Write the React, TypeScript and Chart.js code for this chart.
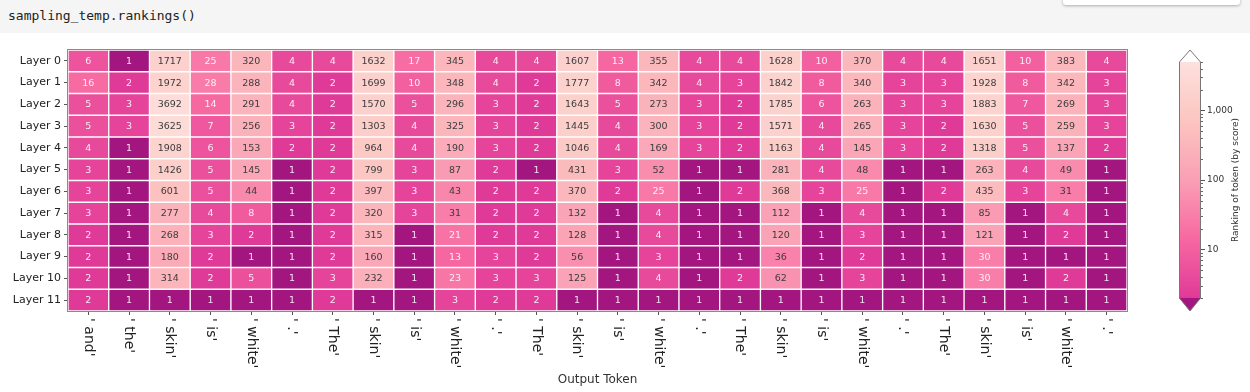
import React, { useEffect, useRef } from "react";
import { Chart, registerables } from "chart.js";

Chart.register(...registerables);

// ---------------- data ----------------
const tokens = [
  "and", "the", "skin", "is", "white", ".",
  "The", "skin", "is", "white", ".",
  "The", "skin", "is", "white", ".",
  "The", "skin", "is", "white", ".",
  "The", "skin", "is", "white", ".",
];

const layers = [
  "Layer 0", "Layer 1", "Layer 2", "Layer 3", "Layer 4", "Layer 5",
  "Layer 6", "Layer 7", "Layer 8", "Layer 9", "Layer 10", "Layer 11",
];

const layer0 = [6, 1, 1717, 25, 320, 4, 4, 1632, 17, 345, 4, 4, 1607, 13, 355, 4, 4, 1628, 10, 370, 4, 4, 1651, 10, 383, 4];
const layer1 = [16, 2, 1972, 28, 288, 4, 2, 1699, 10, 348, 4, 2, 1777, 8, 342, 4, 3, 1842, 8, 340, 3, 3, 1928, 8, 342, 3];
const layer2 = [5, 3, 3692, 14, 291, 4, 2, 1570, 5, 296, 3, 2, 1643, 5, 273, 3, 2, 1785, 6, 263, 3, 3, 1883, 7, 269, 3];
const layer3 = [5, 3, 3625, 7, 256, 3, 2, 1303, 4, 325, 3, 2, 1445, 4, 300, 3, 2, 1571, 4, 265, 3, 2, 1630, 5, 259, 3];
const layer4 = [4, 1, 1908, 6, 153, 2, 2, 964, 4, 190, 3, 2, 1046, 4, 169, 3, 2, 1163, 4, 145, 3, 2, 1318, 5, 137, 2];
const layer5 = [3, 1, 1426, 5, 145, 1, 2, 799, 3, 87, 2, 1, 431, 3, 52, 1, 1, 281, 4, 48, 1, 1, 263, 4, 49, 1];
const layer6 = [3, 1, 601, 5, 44, 1, 2, 397, 3, 43, 2, 2, 370, 2, 25, 1, 2, 368, 3, 25, 1, 2, 435, 3, 31, 1];
const layer7 = [3, 1, 277, 4, 8, 1, 2, 320, 3, 31, 2, 2, 132, 1, 4, 1, 1, 112, 1, 4, 1, 1, 85, 1, 4, 1];
const layer8 = [2, 1, 268, 3, 2, 1, 2, 315, 1, 21, 2, 2, 128, 1, 4, 1, 1, 120, 1, 3, 1, 1, 121, 1, 2, 1];
const layer9 = [2, 1, 180, 2, 1, 1, 2, 160, 1, 13, 3, 2, 56, 1, 3, 1, 1, 36, 1, 2, 1, 1, 30, 1, 1, 1];
const layer10 = [2, 1, 314, 2, 5, 1, 3, 232, 1, 23, 3, 3, 125, 1, 4, 1, 2, 62, 1, 3, 1, 1, 30, 1, 2, 1];
const layer11 = [2, 1, 1, 1, 1, 1, 2, 1, 1, 3, 2, 2, 1, 1, 1, 1, 1, 1, 1, 1, 1, 1, 1, 1, 1, 1];

const rankings = [layer0, layer1, layer2, layer3, layer4, layer5, layer6, layer7, layer8, layer9, layer10, layer11];

const colorbarTicks = [10, 100, 1000];
const colorMin = 2;
const colorMax = 5000;
const darkTextFrom = 31;

// ---------------- styles ----------------
const FONT = "'DejaVu Sans', sans-serif";
const cmapStops: number[][] = [
  [224, 58, 152],
  [247, 104, 161],
  [250, 159, 181],
  [252, 197, 192],
  [253, 224, 221],
];
const underColor = "#a3157f";
const overColor = "#ffffff";

function rankColor(v: number): string {
  if (v < colorMin) return underColor;
  if (v > colorMax) return overColor;
  const t = (Math.log10(v) - Math.log10(colorMin)) / (Math.log10(colorMax) - Math.log10(colorMin));
  const p = t * (cmapStops.length - 1);
  const i = Math.min(Math.floor(p), cmapStops.length - 2);
  const f = p - i;
  const a = cmapStops[i];
  const b = cmapStops[i + 1];
  const c = a.map((x, k) => Math.round(x + (b[k] - x) * f));
  return `rgb(${c[0]},${c[1]},${c[2]})`;
}

const heatmapPlugin = {
  id: "heatmapText",
  afterDatasetsDraw(chart: any) {
    const ctx = chart.ctx;
    const area = chart.chartArea;
    ctx.save();
    ctx.font = `9.5px ${FONT}`;
    ctx.textAlign = "center";
    ctx.textBaseline = "middle";
    rankings.forEach((row, di) => {
      const meta = chart.getDatasetMeta(di);
      meta.data.forEach((bar: any, ci: number) => {
        const p = bar.getProps(["x", "y", "base"], true);
        const v = row[ci];
        ctx.fillStyle = v >= darkTextFrom ? "#3c3c3c" : "rgba(255,255,255,0.88)";
        ctx.fillText(String(v), p.x, (p.y + p.base) / 2 + 0.5);
      });
    });
    // frame
    ctx.strokeStyle = "#8a8a8a";
    ctx.lineWidth = 1;
    ctx.strokeRect(Math.round(area.left) - 0.5, Math.round(area.top) - 0.5, area.right - area.left + 1, area.bottom - area.top + 1);
    ctx.restore();
  },
  afterDraw(chart: any) {
    const ctx = chart.ctx;
    const xs = chart.scales.x;
    const area = chart.chartArea;
    ctx.save();
    ctx.fillStyle = "#222";
    ctx.font = `14px ${FONT}`;
    ctx.textAlign = "left";
    ctx.textBaseline = "middle";
    tokens.forEach((tok, i) => {
      const x = xs.getPixelForValue(i);
      ctx.save();
      ctx.translate(x, area.bottom + 7);
      ctx.rotate(Math.PI / 2);
      ctx.fillText(`' ${tok}'`, 0, 0);
      ctx.restore();
    });
    ctx.font = `12px ${FONT}`;
    ctx.textAlign = "center";
    ctx.fillStyle = "#333";
    ctx.fillText("Output Token", (area.left + area.right) / 2, area.bottom + 69);
    ctx.restore();
  },
};

const colorbarPlugin = {
  id: "colorbar",
  beforeDatasetsDraw(chart: any) {
    const ctx = chart.ctx;
    const ys = chart.scales.y;
    const { left, right, top, bottom } = chart.chartArea;
    const cx = (left + right) / 2;
    ctx.save();
    for (let py = Math.floor(top); py < Math.ceil(bottom); py++) {
      const v = ys.getValueForPixel(py + 0.5);
      ctx.fillStyle = rankColor(Math.min(Math.max(v, colorMin), colorMax));
      ctx.fillRect(left, py, right - left, 1);
    }
    // extend triangles
    ctx.fillStyle = overColor;
    ctx.beginPath();
    ctx.moveTo(left, top);
    ctx.lineTo(cx, top - 12);
    ctx.lineTo(right, top);
    ctx.closePath();
    ctx.fill();
    ctx.fillStyle = underColor;
    ctx.beginPath();
    ctx.moveTo(left, bottom);
    ctx.lineTo(cx, bottom + 13);
    ctx.lineTo(right, bottom);
    ctx.closePath();
    ctx.fill();
    // outline
    ctx.strokeStyle = "#777";
    ctx.lineWidth = 1;
    ctx.beginPath();
    ctx.moveTo(left + 0.5, top);
    ctx.lineTo(cx, top - 12);
    ctx.lineTo(right - 0.5, top);
    ctx.lineTo(right - 0.5, bottom);
    ctx.lineTo(cx, bottom + 13);
    ctx.lineTo(left + 0.5, bottom);
    ctx.closePath();
    ctx.stroke();
    // minor ticks
    ctx.strokeStyle = "#666";
    for (let d = 0; d < 4; d++) {
      for (let k = 2; k <= 9; k++) {
        const v = k * Math.pow(10, d);
        if (v < colorMin || v > colorMax) continue;
        const y = Math.round(ys.getPixelForValue(v)) + 0.5;
        ctx.beginPath();
        ctx.moveTo(right, y);
        ctx.lineTo(right + 2, y);
        ctx.stroke();
      }
    }
    ctx.restore();
  },
  afterDraw(chart: any) {
    const ctx = chart.ctx;
    const { right, top, bottom } = chart.chartArea;
    ctx.save();
    ctx.font = `9px ${FONT}`;
    ctx.fillStyle = "#333";
    ctx.textAlign = "center";
    ctx.textBaseline = "middle";
    ctx.translate(right + 35, (top + bottom) / 2);
    ctx.rotate(-Math.PI / 2);
    ctx.fillText("Ranking of token (by score)", 0, 0);
    ctx.restore();
  },
};

export default function App() {
  const heatRef = useRef<HTMLCanvasElement>(null);
  const barRef = useRef<HTMLCanvasElement>(null);

  useEffect(() => {
    const datasets = rankings.map((row, li) => ({
      label: layers[li],
      data: row.map(() => 1),
      backgroundColor: row.map((v) => rankColor(v)),
      borderColor: "rgba(255,255,255,0.9)",
      borderWidth: 1,
      borderSkipped: false,
      barPercentage: 1,
      categoryPercentage: 1,
      stack: "cells",
    }));

    const heat = new Chart(heatRef.current!, {
      type: "bar",
      data: { labels: tokens, datasets },
      plugins: [heatmapPlugin],
      options: {
        responsive: false,
        animation: false,
        layout: { padding: { top: 16, right: 3, left: 0, bottom: 0 } },
        plugins: { legend: { display: false }, tooltip: { enabled: false } },
        scales: {
          x: {
            type: "category",
            stacked: true,
            offset: true,
            grid: { display: true, drawOnChartArea: false, offset: false, tickLength: 4, color: "#555" },
            border: { display: false },
            ticks: { display: false, autoSkip: false },
            afterFit: (s: any) => { s.height = 81; },
          },
          y: {
            type: "linear",
            stacked: true,
            reverse: true,
            min: 0,
            max: layers.length,
            afterBuildTicks: (s: any) => { s.ticks = layers.map((_, i) => ({ value: i + 0.5 })); },
            ticks: {
              autoSkip: false,
              padding: 3,
              color: "#222",
              font: { size: 11, family: FONT },
              callback: (_v: any, i: number) => layers[i],
            },
            grid: { display: true, drawOnChartArea: false, tickLength: 4, color: "#555" },
            border: { display: false },
            afterFit: (s: any) => { s.width = 68; },
          },
        },
      } as any,
    });

    const bar = new Chart(barRef.current!, {
      type: "bar",
      data: { labels: [""], datasets: [{ data: [] as number[] }] },
      plugins: [colorbarPlugin],
      options: {
        responsive: false,
        animation: false,
        layout: { padding: { top: 28, bottom: 36, left: 29, right: 0 } },
        plugins: { legend: { display: false }, tooltip: { enabled: false } },
        scales: {
          x: { display: false },
          y: {
            type: "logarithmic",
            position: "right",
            min: colorMin,
            max: colorMax,
            afterBuildTicks: (s: any) => { s.ticks = colorbarTicks.map((v) => ({ value: v })); },
            ticks: {
              padding: 2,
              color: "#333",
              font: { size: 9, family: FONT },
              callback: (v: any) => Number(v).toLocaleString("en-US"),
            },
            grid: { display: true, drawOnChartArea: false, tickLength: 4, color: "#555" },
            border: { display: false },
            afterFit: (s: any) => { s.width = 49; },
          },
        },
      } as any,
    });

    return () => {
      heat.destroy();
      bar.destroy();
    };
  }, []);

  return (
    <div style={{ position: "absolute", left: 0, top: 0, width: 1250, height: 392, overflow: "hidden", background: "#fff" }}>
      <div style={{ position: "absolute", left: 0, top: 0, width: 1250, height: 33, background: "#f5f5f5" }} />
      <div
        style={{
          position: "absolute", left: 8, top: 8, height: 16, lineHeight: "16px",
          fontFamily: "'DejaVu Sans Mono', monospace", fontSize: 13, color: "#222",
        }}
      >
        sampling_temp.rankings()
      </div>
      <div
        style={{
          position: "absolute", left: 1063, top: -4, width: 177, height: 9, background: "#fff",
          borderRadius: 3, boxShadow: "0 1px 3px rgba(0,0,0,0.3)",
        }}
      />
      <canvas ref={heatRef} width={1130} height={358} style={{ position: "absolute", left: 0, top: 34, width: 1130, height: 358 }} />
      <canvas ref={barRef} width={100} height={300} style={{ position: "absolute", left: 1150, top: 34, width: 100, height: 300 }} />
    </div>
  );
}
